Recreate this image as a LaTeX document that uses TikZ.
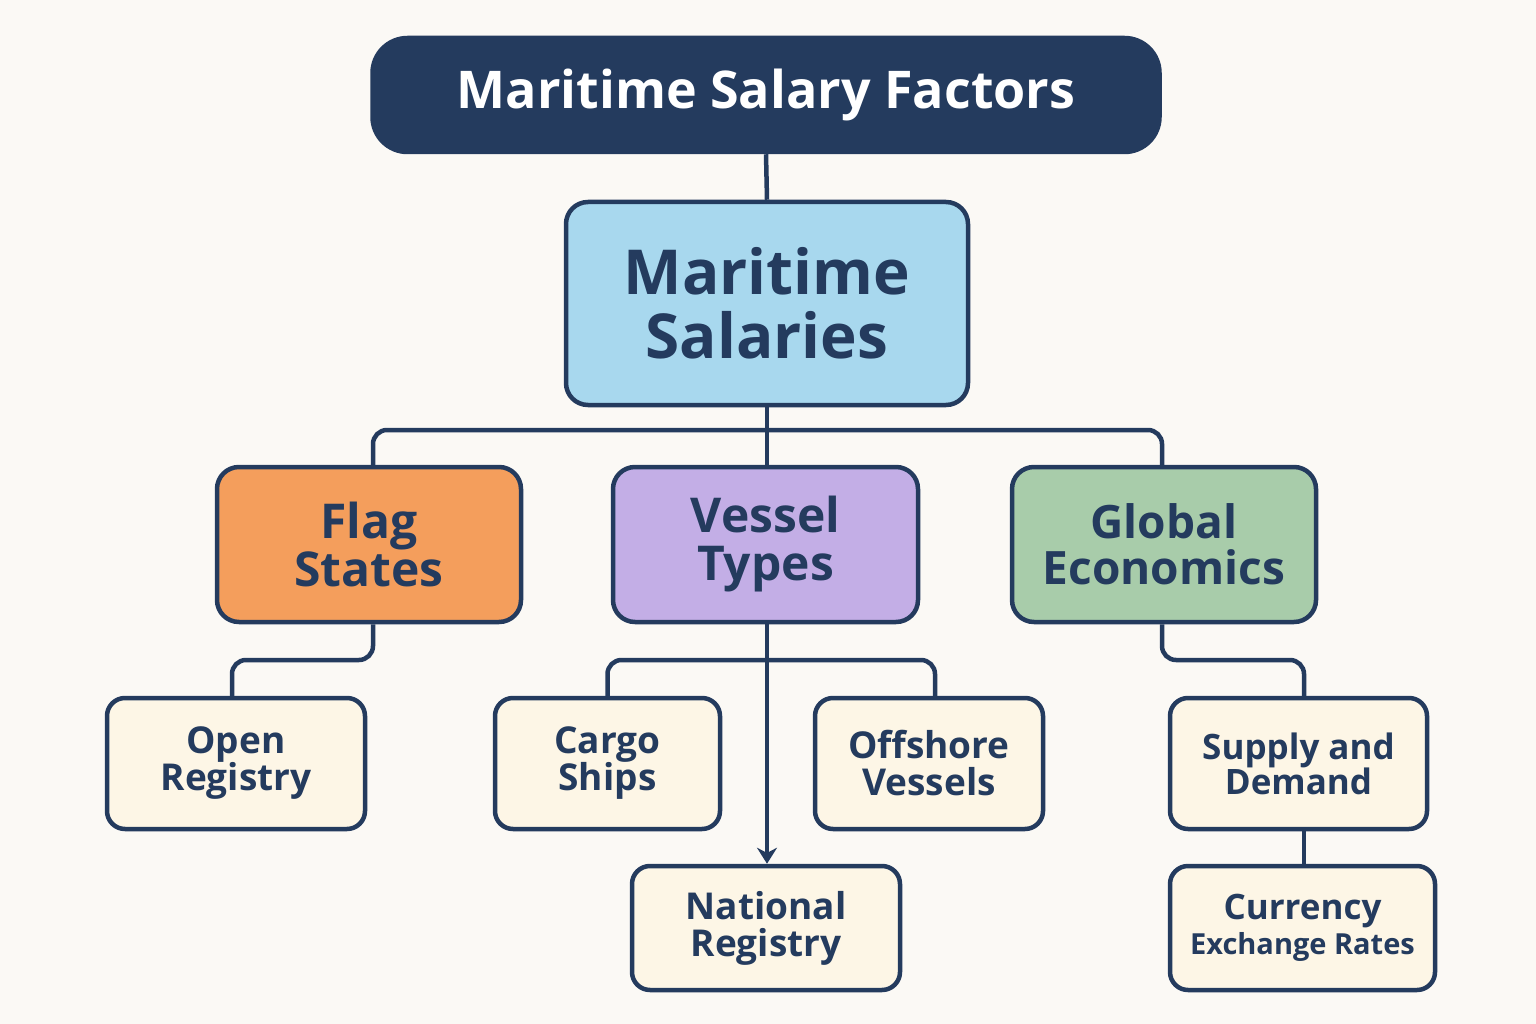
\documentclass[tikz,border=0pt]{standalone}
\usepackage{fontspec}
\setmainfont{Open Sans}
\usetikzlibrary{arrows.meta}
\definecolor{navy}{HTML}{243B5E}
\definecolor{bg}{HTML}{FBF9F5}
\definecolor{lblue}{HTML}{A8D8EE}
\definecolor{orng}{HTML}{F49E5C}
\definecolor{purp}{HTML}{C3AEE6}
\definecolor{grn}{HTML}{A8CCAA}
\definecolor{cream}{HTML}{FDF6E6}
\tikzset{
 box/.style={draw=navy,line width=4.5pt,rounded corners=22pt,text=navy,align=center,font=\bfseries},
 conn/.style={draw=navy,line width=4.5pt,rounded corners=14pt},
}
\newcommand{\fs}[1]{\fontsize{#1pt}{#1pt}\selectfont}
\begin{document}
\begin{tikzpicture}[x=1pt,y=-1pt]
\useasboundingbox[fill=bg] (0,0) rectangle (1536,1024);
\node[box,fill=navy,text=white,draw=navy,rounded corners=35pt,minimum width=787pt,minimum height=114pt,font=\bfseries\fs{52}] (title) at (766,95) {Maritime Salary Factors};
\node[box,fill=lblue,minimum width=402pt,minimum height=203pt,font=\bfseries\fs{62}] (ms) at (767,303.5) {Maritime\\[2pt]Salaries};
\node[box,fill=orng,minimum width=304pt,minimum height=155pt,font=\bfseries\fs{48}] (flag) at (369,544.5) {Flag\\States};
\node[box,fill=purp,minimum width=305pt,minimum height=155pt,font=\bfseries\fs{48}] (vessel) at (765.5,544.5) {Vessel\\Types};
\node[box,fill=grn,minimum width=304pt,minimum height=155pt,font=\bfseries\fs{46}] (glob) at (1164,544.5) {Global\\Economics};
\tikzset{small/.style={box,fill=cream,rounded corners=18pt,minimum height=131pt,font=\bfseries\fs{37}}}
\node[small,minimum width=258pt] (open) at (236,763.5) {Open\\Registry};
\node[small,minimum width=225pt] (cargo) at (607.5,763.5) {Cargo\\Ships};
\node[small,minimum width=228pt] (off) at (929,763.5) {Offshore\\Vessels};
\node[small,minimum width=257pt,font=\bfseries\fs{35}] (sup) at (1298.5,763.5) {Supply and\\Demand};
\node[small,minimum width=268pt,minimum height=124pt] (nat) at (766,928) {National\\Registry};
\node[small,minimum width=265pt,minimum height=124pt,font=\bfseries\fs{35}] (cur) at (1302.5,928) {Currency\\{\fs{29}Exchange Rates}};
\draw[conn] (title.south) -- (ms.north);
\draw[conn] (ms.south) -- (vessel.north -| 767,0);
\draw[conn] (flag.north -| 373,0) |- (767,430) -| (glob.north -| 1162,0);
\draw[conn] (flag.south -| 373,0) -- (373,660) -| (open.north -| 232,0);
\draw[conn] (glob.south -| 1162,0) -- (1162,660) -| (sup.north -| 1304,0);
\draw[conn] (cargo.north) |- (767,660) -| (off.north -| 935,0);
\draw[navy,line width=4.5pt,-{Stealth[length=16pt,width=20pt]}] (vessel.south -| 767,0) -- (nat.north -| 767,0);
\draw[conn] (sup.south -| 1304,0) -- (cur.north -| 1304,0);
\end{tikzpicture}
\end{document}
